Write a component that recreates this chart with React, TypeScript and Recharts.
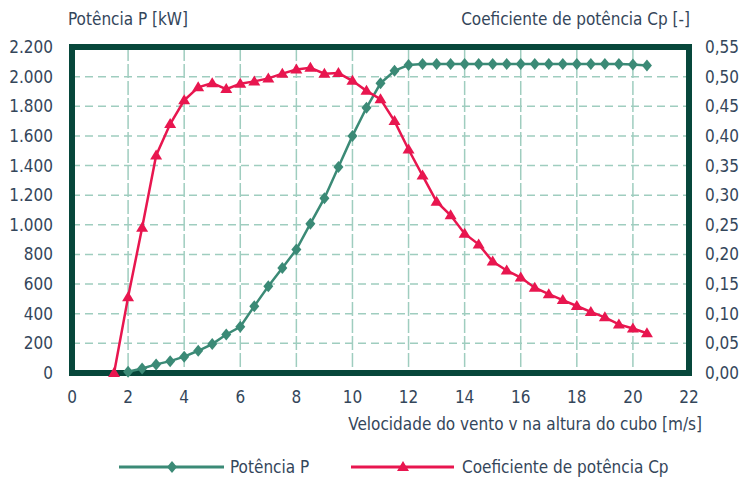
import { LineChart, Line, XAxis, YAxis, CartesianGrid, ReferenceArea } from 'recharts'

// wind speed at hub height [m/s]
const speeds = [
  1.5, 2, 2.5, 3, 3.5, 4, 4.5, 5, 5.5, 6, 6.5, 7, 7.5, 8, 8.5, 9, 9.5, 10, 10.5, 11,
  11.5, 12, 12.5, 13, 13.5, 14, 14.5, 15, 15.5, 16, 16.5, 17, 17.5, 18, 18.5, 19, 19.5, 20, 20.5,
]

// power P [kW]
const powerKW = [
  null, 8, 30, 58, 80, 110, 150, 195, 260, 312, 451, 586, 709, 833, 1008, 1180, 1390, 1600, 1790, 1955,
  2040, 2078, 2085, 2085, 2085, 2085, 2085, 2085, 2085, 2085, 2085, 2085, 2085, 2085, 2085, 2085, 2085, 2082, 2075,
]

// power coefficient Cp [-]
const cp = [
  0, 0.128, 0.245, 0.367, 0.42, 0.46, 0.482, 0.489, 0.479, 0.488, 0.492, 0.497, 0.505, 0.512, 0.515, 0.505, 0.506, 0.493, 0.476, 0.462,
  0.425, 0.377, 0.333, 0.289, 0.266, 0.235, 0.217, 0.188, 0.173, 0.161, 0.144, 0.133, 0.123, 0.113, 0.103, 0.094, 0.082, 0.075, 0.067,
]

const xTicks = [0, 2, 4, 6, 8, 10, 12, 14, 16, 18, 20, 22]
const pTicks = [0, 200, 400, 600, 800, 1000, 1200, 1400, 1600, 1800, 2000, 2200]
const cpTicks = [0, 0.05, 0.1, 0.15, 0.2, 0.25, 0.3, 0.35, 0.4, 0.45, 0.5, 0.55]

const data = speeds.map((v, i) => ({ v, P: powerKW[i], Cp: cp[i] }))

const GREEN = '#3b8a76'
const RED = '#e8164f'
const FRAME = '#07473b'
const GRID = '#9fcdbf'
const TEXT = '#34465a'
const FONT = '"Liberation Sans Narrow", "DejaVu Sans Condensed", sans-serif'

const fmtP = (n: number) => (n >= 1000 ? `${Math.floor(n / 1000)}.${String(n % 1000).padStart(3, '0')}` : String(n))
const fmtCp = (n: number) => n.toFixed(2).replace('.', ',')

function Diamond(props: any) {
  const { cx, cy } = props
  if (cx == null || cy == null) return null
  return <path d={`M${cx},${cy - 6}L${cx + 5},${cy}L${cx},${cy + 6}L${cx - 5},${cy}Z`} fill={GREEN} />
}

function Triangle(props: any) {
  const { cx, cy } = props
  if (cx == null || cy == null) return null
  return <path d={`M${cx},${cy - 6}L${cx + 6},${cy + 4}L${cx - 6},${cy + 4}Z`} fill={RED} />
}

const tickStyle = { fill: TEXT, fontSize: 17, fontFamily: FONT }
const labelStyle: React.CSSProperties = {
  position: 'absolute', color: TEXT, fontSize: 17, fontFamily: FONT, whiteSpace: 'nowrap', lineHeight: 1,
}

export default function App() {
  return (
    <div style={{ position: 'absolute', left: 0, top: 0, width: 744, height: 481, background: '#fff' }}>
      <LineChart width={744} height={481} data={data} margin={{ top: 47, right: 0, bottom: 48, left: 0 }}>
        <CartesianGrid yAxisId="p" vertical={false} stroke={GRID} strokeWidth={1.5} strokeDasharray="8 5" />
        <CartesianGrid yAxisId="p" horizontal={false} stroke={GRID} strokeWidth={1.5} strokeDasharray="14 3" />
        <XAxis
          dataKey="v" type="number" domain={[0, 22]} ticks={xTicks} interval={0}
          axisLine={false} tickLine={false} tickMargin={12} height={60} tick={tickStyle}
        />
        <YAxis
          yAxisId="p" domain={[0, 2200]} ticks={pTicks} interval={0} width={72}
          axisLine={false} tickLine={false} tickMargin={13} tick={tickStyle} tickFormatter={fmtP}
        />
        <YAxis
          yAxisId="cp" orientation="right" domain={[0, 0.55]} ticks={cpTicks} interval={0} width={55}
          axisLine={false} tickLine={false} tickMargin={10} tick={{ ...tickStyle, textAnchor: 'start' }} tickFormatter={fmtCp}
        />
        <ReferenceArea yAxisId="p" x1={0} x2={22} y1={0} y2={2200} fill="none" stroke={FRAME} strokeWidth={6} />
        <Line yAxisId="p" dataKey="P" stroke={GREEN} strokeWidth={2.5} dot={<Diamond />} isAnimationActive={false} />
        <Line yAxisId="cp" dataKey="Cp" stroke={RED} strokeWidth={2.5} dot={<Triangle />} isAnimationActive={false} />
      </LineChart>

      <div style={{ ...labelStyle, left: 68, top: 11 }}>Potência P [kW]</div>
      <div style={{ ...labelStyle, right: 744 - 690, top: 11 }}>Coeficiente de potência Cp [-]</div>
      <div style={{ ...labelStyle, right: 744 - 702, top: 416 }}>Velocidade do vento v na altura do cubo [m/s]</div>

      <div style={{ position: 'absolute', left: 0, top: 456, width: 744, height: 24 }}>
        <svg width={744} height={24} style={{ position: 'absolute', left: 0, top: 0 }}>
          <line x1={119} x2={224} y1={11} y2={11} stroke={GREEN} strokeWidth={3} />
          <Diamond cx={172} cy={11} />
          <line x1={351} x2={454} y1={11} y2={11} stroke={RED} strokeWidth={3} />
          <Triangle cx={403} cy={11} />
        </svg>
        <div style={{ ...labelStyle, left: 230, top: 3 }}>Potência P</div>
        <div style={{ ...labelStyle, left: 462, top: 3 }}>Coeficiente de potência Cp</div>
      </div>
    </div>
  )
}
